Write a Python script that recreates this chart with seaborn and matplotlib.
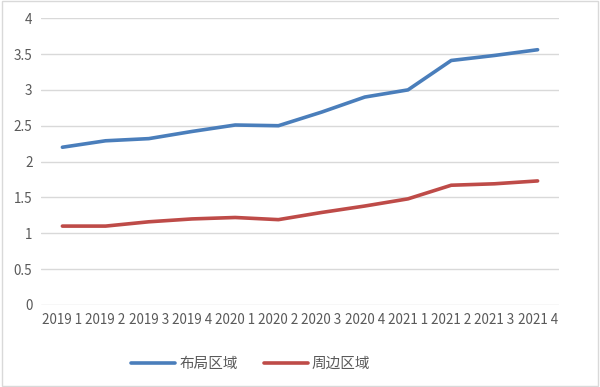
import pandas as pd
import matplotlib.pyplot as plt
import seaborn as sns

# 季度标签与两条序列
quarters = ['2019 1', '2019 2', '2019 3', '2019 4', '2020 1', '2020 2',
            '2020 3', '2020 4', '2021 1', '2021 2', '2021 3', '2021 4']
layout_area = [2.20, 2.29, 2.32, 2.42, 2.51, 2.50, 2.69, 2.90, 3.00, 3.41, 3.48, 3.56]
nearby_area = [1.10, 1.10, 1.16, 1.20, 1.22, 1.19, 1.29, 1.38, 1.48, 1.67, 1.69, 1.73]
series_names = ['布局区域', '周边区域']

df = pd.DataFrame({
    'quarter': quarters * 2,
    'value': layout_area + nearby_area,
    'series': [series_names[0]] * len(quarters) + [series_names[1]] * len(quarters),
})
df['pos'] = list(range(len(quarters))) * 2

sns.set_style('white')
plt.rcParams['font.family'] = ['Noto Sans CJK SC', 'DejaVu Sans']

fig = plt.figure(figsize=(6, 3.87), dpi=100)
ax = fig.add_axes([0.068, 0.212, 0.864, 0.741])

sns.lineplot(data=df, x='pos', y='value', hue='series', hue_order=series_names,
             palette=['#4A7EBB', '#BE4B48'], linewidth=2.6, ax=ax, legend=True)

ax.set_xlim(-0.5, len(quarters) - 0.5)
ax.set_ylim(0, 4)
ax.set_yticks([0, 0.5, 1, 1.5, 2, 2.5, 3, 3.5, 4])
ax.set_yticklabels(['0', '0.5', '1', '1.5', '2', '2.5', '3', '3.5', '4'])
ax.set_xticks(range(len(quarters)))
ax.set_xticklabels(quarters)
ax.tick_params(axis='both', length=0, labelsize=9.7, colors='#595959', pad=6)
ax.set_xlabel('')
ax.set_ylabel('')
ax.grid(axis='y', color='#D9D9D9', linewidth=1)
for s in ax.spines.values():
    s.set_visible(False)

leg = ax.legend(loc='center', bbox_to_anchor=(0.405, -0.205), ncol=2, frameon=False,
                fontsize=10.5, handlelength=3, columnspacing=1.8, handletextpad=0.3)
for t in leg.get_texts():
    t.set_color('#595959')

fig.patches.append(plt.Rectangle((0.003, 0.003), 0.994, 0.994, transform=fig.transFigure,
                                 fill=False, edgecolor='#D9D9D9', linewidth=1))

fig.savefig('out.png', dpi=100)
